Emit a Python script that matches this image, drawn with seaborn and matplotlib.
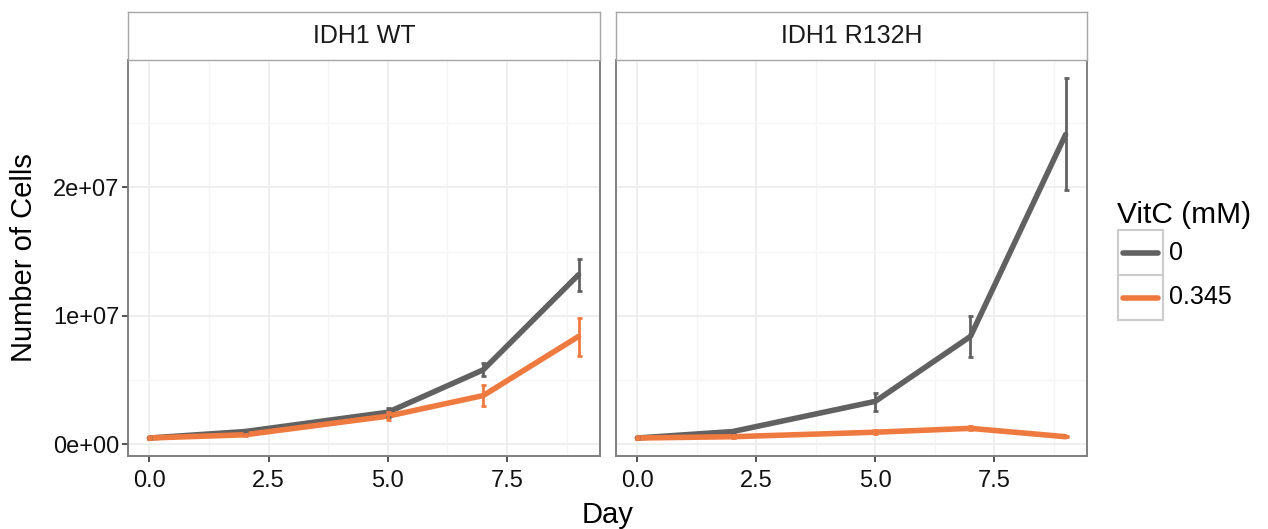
import numpy as np
import pandas as pd
import matplotlib
matplotlib.use("Agg")
import matplotlib.pyplot as plt
from matplotlib.lines import Line2D
from matplotlib.patches import Rectangle
from matplotlib.ticker import FuncFormatter, MultipleLocator
import seaborn as sns

# Data
days = [0, 2, 5, 7, 9]
genotypes = ["IDH1 WT", "IDH1 R132H"]
vitc_levels = ["0", "0.345"]

wt_ctrl = [0.5e6, 1.0e6, 2.5e6, 5.8e6, 13.2e6]
wt_ctrl_lo = [0.45e6, 0.9e6, 2.1e6, 5.3e6, 11.9e6]
wt_ctrl_hi = [0.55e6, 1.1e6, 2.8e6, 6.3e6, 14.4e6]

wt_vitc = [0.5e6, 0.75e6, 2.2e6, 3.8e6, 8.4e6]
wt_vitc_lo = [0.45e6, 0.65e6, 1.9e6, 3.0e6, 6.9e6]
wt_vitc_hi = [0.55e6, 0.85e6, 2.5e6, 4.6e6, 9.8e6]

mut_ctrl = [0.5e6, 1.0e6, 3.35e6, 8.4e6, 24.1e6]
mut_ctrl_lo = [0.45e6, 0.9e6, 2.6e6, 6.8e6, 19.8e6]
mut_ctrl_hi = [0.55e6, 1.1e6, 4.0e6, 10.0e6, 28.5e6]

mut_vitc = [0.5e6, 0.6e6, 0.95e6, 1.25e6, 0.6e6]
mut_vitc_lo = [0.45e6, 0.5e6, 0.8e6, 1.1e6, 0.55e6]
mut_vitc_hi = [0.55e6, 0.7e6, 1.1e6, 1.4e6, 0.65e6]

rows = []
series = {
    ("IDH1 WT", "0"): (wt_ctrl, wt_ctrl_lo, wt_ctrl_hi),
    ("IDH1 WT", "0.345"): (wt_vitc, wt_vitc_lo, wt_vitc_hi),
    ("IDH1 R132H", "0"): (mut_ctrl, mut_ctrl_lo, mut_ctrl_hi),
    ("IDH1 R132H", "0.345"): (mut_vitc, mut_vitc_lo, mut_vitc_hi),
}
for (g, v), (m, lo, hi) in series.items():
    for d, mm, l, h in zip(days, m, lo, hi):
        rows.append(dict(Genotype=g, VitC=v, Day=d, Cells=mm, lo=l, hi=h))
df = pd.DataFrame(rows)

palette = {"0": "#616161", "0.345": "#EF7A40"}

sns.set_theme(style="white")
plt.rcParams["font.family"] = ["Liberation Sans", "DejaVu Sans"]

W, H = 1268, 529
fig = plt.figure(figsize=(W / 100, H / 100), dpi=100)

panel_x = [(128, 600), (616, 1087)]
ptop, pbot = 60, 456
strip_top = 12
LW = 4.0


def fr(x0, y0, x1, y1):
    return [x0 / W, 1 - y1 / H, (x1 - x0) / W, (y1 - y0) / H]


def px(x, y):
    return x / W, 1 - y / H


for i, g in enumerate(genotypes):
    x0, x1 = panel_x[i]
    ax = fig.add_axes(fr(x0, ptop, x1, pbot))
    sub = df[df.Genotype == g]
    sns.lineplot(data=sub, x="Day", y="Cells", hue="VitC", palette=palette,
                 hue_order=vitc_levels, linewidth=LW, ax=ax, legend=False,
                 estimator=None, zorder=3)
    for v in vitc_levels:
        s = sub[sub.VitC == v]
        ax.errorbar(s.Day, s.Cells, yerr=[s.Cells - s.lo, s.hi - s.Cells],
                    fmt="none", ecolor=palette[v], elinewidth=2.0,
                    capsize=1.8, capthick=2.0, zorder=4)
    ax.set_xlim(-0.45, 9.45)
    ax.set_ylim(-0.9e6, 2.99e7)
    ax.xaxis.set_major_locator(MultipleLocator(2.5))
    ax.xaxis.set_minor_locator(MultipleLocator(1.25))
    ax.yaxis.set_major_locator(MultipleLocator(1e7))
    ax.yaxis.set_minor_locator(MultipleLocator(0.5e7))
    ax.grid(True, which="major", color="#EBEBEB", linewidth=1.1)
    ax.grid(True, which="minor", color="#F5F5F5", linewidth=1.0)
    ax.set_axisbelow(True)
    ax.xaxis.set_major_formatter(FuncFormatter(lambda v, p: f"{v:.1f}"))
    ax.yaxis.set_major_formatter(FuncFormatter(lambda v, p: f"{v:.0e}"))
    ax.tick_params(which="major", length=4, width=1.2, color="#333333",
                   labelsize=17, labelcolor="#111111", pad=2,
                   bottom=True, left=(i == 0))
    ax.tick_params(axis="x", which="major", pad=6)
    ax.tick_params(which="minor", length=0)
    if i > 0:
        ax.set_yticklabels([])
    for sp in ax.spines.values():
        sp.set_color("#7F7F7F")
        sp.set_linewidth(1.4)
    ax.set_xlabel("")
    ax.set_ylabel("")

    # facet strip
    sax = fig.add_axes(fr(x0, strip_top, x1, ptop))
    sax.set_xticks([])
    sax.set_yticks([])
    sax.set_facecolor("white")
    for sp in sax.spines.values():
        sp.set_color("#A6A6A6")
        sp.set_linewidth(1.0)
    sax.text(0.5, 0.5, g, ha="center", va="center", fontsize=18,
             color="#1A1A1A", transform=sax.transAxes)

fig.text(*px((128 + 1087) / 2, 515), "Day", ha="center", va="center",
         fontsize=21, color="black")
fig.text(*px(24, 258), "Number of Cells", ha="center", va="center",
         rotation=90, fontsize=21, color="black")

# legend, ggplot style: title, keys in grey boxes
fig.text(*px(1117, 215), "VitC (mM)", ha="left", va="center", fontsize=21.5,
         color="black")
key_x0, key_w, key_h, key_top = 1118, 45, 45, 230
for j, v in enumerate(vitc_levels):
    ky = key_top + j * key_h
    fig.patches.append(Rectangle(px(key_x0, ky + key_h), key_w / W, key_h / H,
                                 transform=fig.transFigure, facecolor="white",
                                 edgecolor="#CCCCCC", linewidth=1.5))
    xa, ya = px(key_x0 + 5, ky + key_h / 2)
    xb, _ = px(key_x0 + key_w - 5, ky + key_h / 2)
    fig.lines.append(Line2D([xa, xb], [ya, ya], transform=fig.transFigure,
                            color=palette[v], linewidth=LW))
    fig.text(*px(key_x0 + key_w + 6, ky + key_h / 2), v, ha="left",
             va="center", fontsize=18, color="black")

fig.savefig("out.png", dpi=100)
